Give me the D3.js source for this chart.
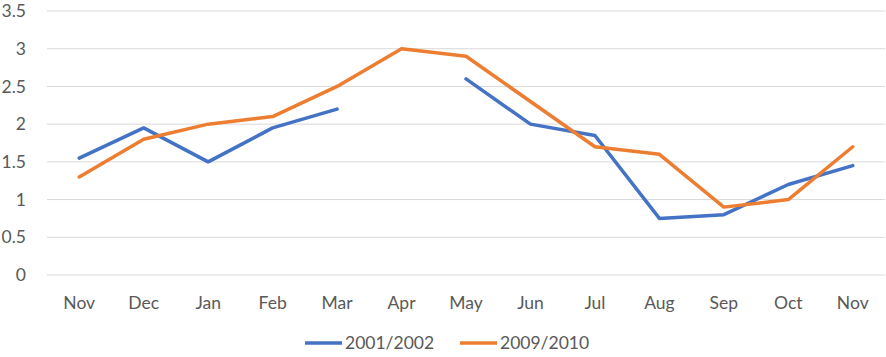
<!DOCTYPE html>
<html><head><meta charset="utf-8">
<script src="https://cdn.jsdelivr.net/npm/d3@7"></script>
<style>body{margin:0;background:#fff}svg{display:block}text{font-family:Lato,"Open Sans",sans-serif;fill:#595959}</style>
</head><body><svg id="c" width="886" height="357"></svg>
<script>
const categories = ["Nov","Dec","Jan","Feb","Mar","Apr","May","Jun","Jul","Aug","Sep","Oct","Nov"];
const series2001 = [1.55,1.95,1.5,1.95,2.2,null,2.6,2.0,1.85,0.75,0.8,1.2,1.45];
const series2009 = [1.3,1.8,2.0,2.1,2.5,3.0,2.9,2.3,1.7,1.6,0.9,1.0,1.7];
const yTicks = [0,0.5,1,1.5,2,2.5,3,3.5];
const seriesNames = ["2001/2002","2009/2010"];
const colors = ["#4472C4","#ED7D31"];

(function(){
const svg = d3.select("#c");
const mLeft = 47, mRight = 885, mTop = 11, mBottom = 275;
const fs = 17.5;
const x = d3.scaleBand().domain(d3.range(categories.length)).range([mLeft,mRight]);
const y = d3.scaleLinear().domain([0,3.5]).range([mBottom,mTop]);

svg.append("g").selectAll("line").data(yTicks).join("line")
  .attr("x1",mLeft).attr("x2",mRight).attr("y1",d=>y(d)).attr("y2",d=>y(d))
  .attr("stroke","#d9d9d9").attr("stroke-width",1);

svg.append("g").selectAll("text").data(yTicks).join("text")
  .attr("x",26).attr("y",d=>y(d)).attr("dy","0.35em").attr("text-anchor","end")
  .attr("font-size",fs).text(d=>d);

svg.append("g").selectAll("text").data(categories).join("text")
  .attr("x",(d,i)=>x(i)+x.bandwidth()/2).attr("y",309).attr("text-anchor","middle")
  .attr("font-size",fs).text(d=>d);

const line = d3.line().defined(d=>d!=null)
  .x((d,i)=>x(i)+x.bandwidth()/2).y(d=>y(d));
[series2001,series2009].forEach((s,k)=>{
  svg.append("path").datum(s).attr("d",line).attr("fill","none")
    .attr("stroke",colors[k]).attr("stroke-width",3.5)
    .attr("stroke-linejoin","round").attr("stroke-linecap","round");
});

const legX = [305,460];
seriesNames.forEach((n,k)=>{
  const g = svg.append("g").attr("transform",`translate(${legX[k]},343)`);
  g.append("line").attr("x1",0).attr("x2",37).attr("stroke",colors[k]).attr("stroke-width",3.5);
  g.append("text").attr("x",40).attr("dy","0.35em").attr("font-size",fs).text(n);
});
})();
</script></body></html>
